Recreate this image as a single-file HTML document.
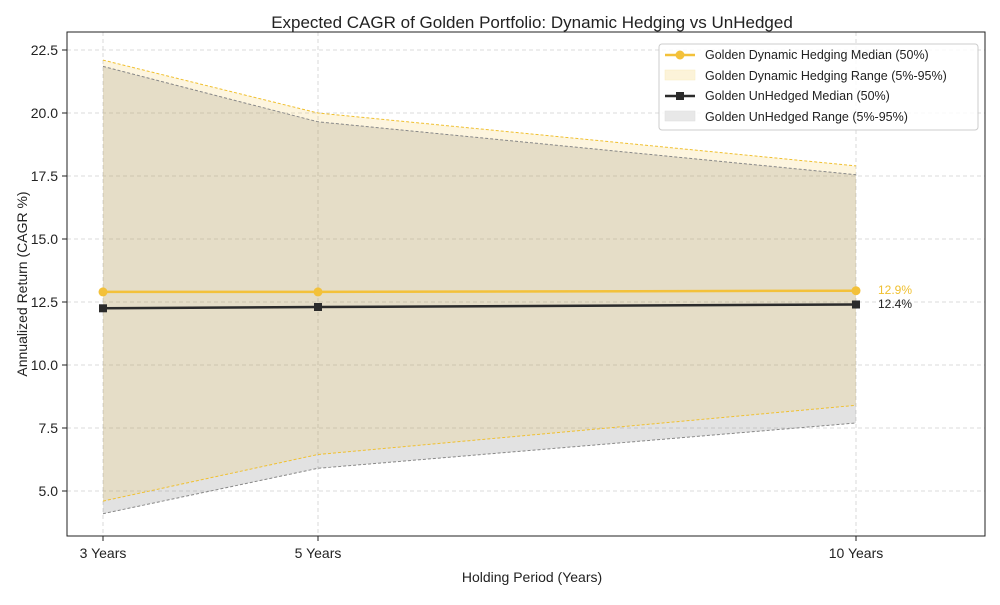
<!DOCTYPE html>
<html><head><meta charset="utf-8"><style>
body{margin:0;background:#fff}
svg text{font-family:"Liberation Sans",sans-serif;fill:#222}
</style></head><body>
<svg width="1000" height="600" viewBox="0 0 1000 600" xmlns="http://www.w3.org/2000/svg">
<rect width="1000" height="600" fill="#fff"/>
<text x="532" y="28" font-size="17" text-anchor="middle">Expected CAGR of Golden Portfolio: Dynamic Hedging vs UnHedged</text>
<g stroke="#d0d0d0" stroke-dasharray="4,3" stroke-width="0.8">
<line x1="67" x2="985" y1="50" y2="50"/><line x1="67" x2="985" y1="113" y2="113"/>
<line x1="67" x2="985" y1="176" y2="176"/><line x1="67" x2="985" y1="239" y2="239"/>
<line x1="67" x2="985" y1="302" y2="302"/><line x1="67" x2="985" y1="365" y2="365"/>
<line x1="67" x2="985" y1="428" y2="428"/><line x1="67" x2="985" y1="491" y2="491"/>
<line x1="103" x2="103" y1="32" y2="536"/><line x1="318" x2="318" y1="32" y2="536"/>
<line x1="856" x2="856" y1="32" y2="536"/>
</g>
<polygon points="103,66.4 318,121.8 856,174.7 856,423 318,468.3 103,513.7" fill="#808080" fill-opacity="0.23"/>
<polygon points="103,60.1 318,113 856,165.9 856,405.3 318,454.5 103,501.1" fill="#f5c242" fill-opacity="0.17"/>
<polyline points="103,60.1 318,113 856,165.9" fill="none" stroke="#f0c030" stroke-dasharray="3,2" stroke-width="1"/>
<polyline points="103,501.1 318,454.5 856,405.3" fill="none" stroke="#f0c030" stroke-dasharray="3,2" stroke-width="1"/>
<polyline points="103,66.4 318,121.8 856,174.7" fill="none" stroke="#888" stroke-dasharray="3,2" stroke-width="1"/>
<polyline points="103,513.7 318,468.3 856,423" fill="none" stroke="#888" stroke-dasharray="3,2" stroke-width="1"/>
<polyline points="103,291.9 318,291.9 856,290.7" fill="none" stroke="#f3c13a" stroke-width="2.5"/>
<g fill="#f3c13a"><circle cx="103" cy="291.9" r="4.5"/><circle cx="318" cy="291.9" r="4.5"/><circle cx="856" cy="290.7" r="4.5"/></g>
<polyline points="103,308.3 318,307 856,304.5" fill="none" stroke="#2b2b2b" stroke-width="2.5"/>
<g fill="#2b2b2b"><rect x="99" y="304.3" width="8" height="8"/><rect x="314" y="303" width="8" height="8"/><rect x="852" y="300.5" width="8" height="8"/></g>
<text x="878" y="294" font-size="12" style="fill:#f0c030">12.9%</text>
<text x="878" y="308" font-size="12">12.4%</text>
<rect x="67" y="32" width="918" height="504" fill="none" stroke="#222" stroke-width="1"/>
<g font-size="14" text-anchor="end">
<text x="58" y="55">22.5</text><text x="58" y="118">20.0</text><text x="58" y="181">17.5</text>
<text x="58" y="244">15.0</text><text x="58" y="307">12.5</text><text x="58" y="370">10.0</text>
<text x="58" y="433">7.5</text><text x="58" y="496">5.0</text>
</g>
<g stroke="#222"><line x1="62" x2="67" y1="50" y2="50"/><line x1="62" x2="67" y1="113" y2="113"/><line x1="62" x2="67" y1="176" y2="176"/><line x1="62" x2="67" y1="239" y2="239"/><line x1="62" x2="67" y1="302" y2="302"/><line x1="62" x2="67" y1="365" y2="365"/><line x1="62" x2="67" y1="428" y2="428"/><line x1="62" x2="67" y1="491" y2="491"/>
<line x1="103" x2="103" y1="536" y2="541"/><line x1="318" x2="318" y1="536" y2="541"/><line x1="856" x2="856" y1="536" y2="541"/></g>
<g font-size="14" text-anchor="middle">
<text x="103" y="558">3 Years</text><text x="318" y="558">5 Years</text><text x="856" y="558">10 Years</text>
</g>
<text x="532" y="582" font-size="14" text-anchor="middle">Holding Period (Years)</text>
<text transform="translate(27,284) rotate(-90)" font-size="14" text-anchor="middle">Annualized Return (CAGR %)</text>
<rect x="659" y="44" width="319" height="86" rx="3" fill="#fff" fill-opacity="0.85" stroke="#ccc"/>
<line x1="665" x2="695" y1="55" y2="55" stroke="#f3c13a" stroke-width="2.5"/><circle cx="680" cy="55" r="4.5" fill="#f3c13a"/>
<rect x="665" y="70" width="30" height="10" fill="#fcf3d9" stroke="#f8ecc0" stroke-width="0.5"/>
<line x1="665" x2="695" y1="96" y2="96" stroke="#2b2b2b" stroke-width="2.5"/><rect x="676" y="92" width="8" height="8" fill="#2b2b2b"/>
<rect x="665" y="111" width="30" height="10" fill="#e8e8e8" stroke="#ddd" stroke-width="0.5"/>
<g font-size="12.5"><text x="705" y="59">Golden Dynamic Hedging Median (50%)</text>
<text x="705" y="80">Golden Dynamic Hedging Range (5%-95%)</text>
<text x="705" y="100">Golden UnHedged Median (50%)</text>
<text x="705" y="121">Golden UnHedged Range (5%-95%)</text></g>
</svg>
</body></html>
